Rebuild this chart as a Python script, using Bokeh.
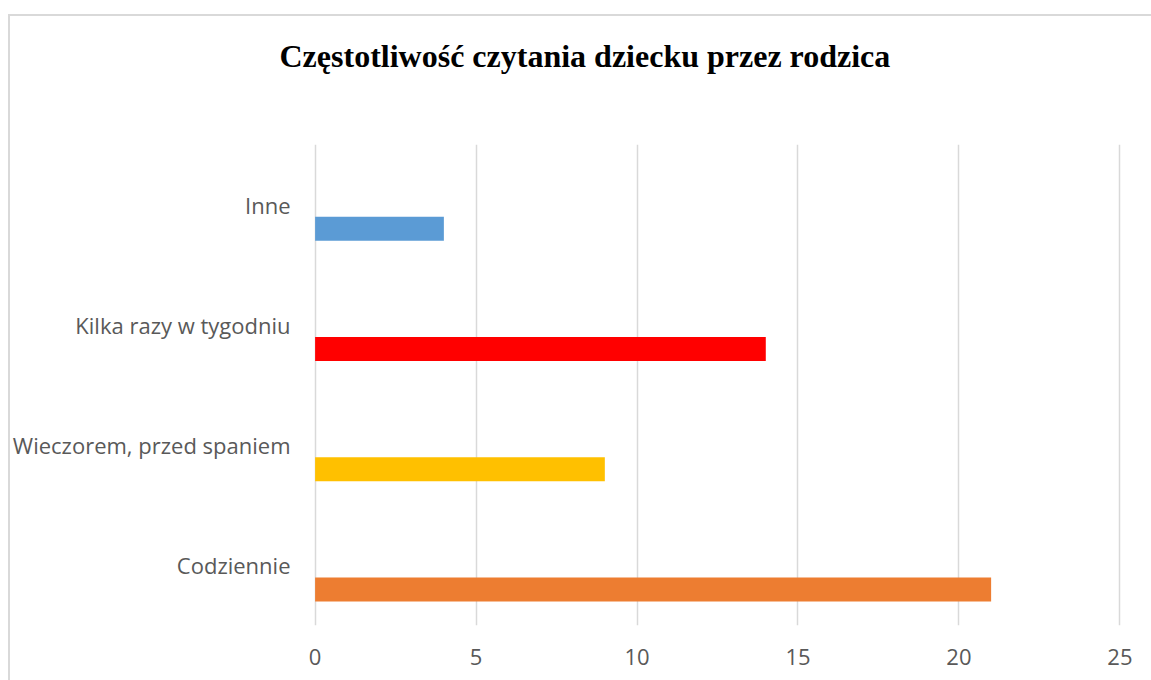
from bokeh.plotting import figure
from bokeh.models import FactorRange, ColumnDataSource, FixedTicker, Title
from bokeh.transform import dodge
from bokeh.embed import file_html
from bokeh.resources import INLINE

title_text = "Częstotliwość czytania dziecku przez rodzica"
categories = ["Codziennie", "Wieczorem, przed spaniem", "Kilka razy w tygodniu", "Inne"]
values = [21, 9, 14, 4]
colors = ["#ED7D31", "#FFC000", "#FF0000", "#5B9BD5"]
x_ticks = [0, 5, 10, 15, 20, 25]

src = ColumnDataSource(dict(cat=categories, val=values, color=colors))

border_css = ("linear-gradient(#D9D9D9,#D9D9D9) 8px 14px / 2px 100% no-repeat, "
              "linear-gradient(#D9D9D9,#D9D9D9) 8px 14px / 100% 2px no-repeat, white")

p = figure(width=1151, height=680, output_backend="svg", toolbar_location=None,
           y_range=FactorRange(*categories, range_padding=0), x_range=(-0.05, 25.05),
           min_border_left=313, min_border_right=30, min_border_top=144, min_border_bottom=55,
           title=None, styles={"background": border_css})
p.outline_line_color = None
p.background_fill_color = None
p.border_fill_color = None

spacer = Title(text=" ", text_font_size="1px", standoff=68)
main_title = Title(text=title_text, align="left", offset=-34, standoff=0,
                   text_font="Liberation Serif", text_font_style="bold",
                   text_font_size="32px", text_color="black")
p.add_layout(spacer, "above")
p.add_layout(main_title, "above")

p.hbar(y=dodge("cat", -0.2, range=p.y_range), right="val", left=0, height=0.2,
       fill_color="color", line_color=None, source=src)

p.ygrid.grid_line_color = None
p.xgrid.grid_line_color = "#D9D9D9"
p.xgrid.grid_line_width = 1.5
p.xaxis.ticker = FixedTicker(ticks=x_ticks)
p.xaxis.axis_line_color = None
p.xaxis.major_tick_line_color = None
p.xaxis.minor_tick_line_color = None
p.xaxis.major_label_standoff = 17
p.xaxis.major_label_text_font = "Open Sans"
p.xaxis.major_label_text_font_size = "22px"
p.xaxis.major_label_text_color = "#595959"

p.yaxis.axis_line_color = None
p.yaxis.major_tick_line_color = None
p.yaxis.minor_tick_line_color = None
p.yaxis.major_label_standoff = 17
p.yaxis.major_label_text_font = "Open Sans"
p.yaxis.major_label_text_font_size = "22px"
p.yaxis.major_label_text_color = "#595959"

open("out.html", "w").write(file_html(p, INLINE))
